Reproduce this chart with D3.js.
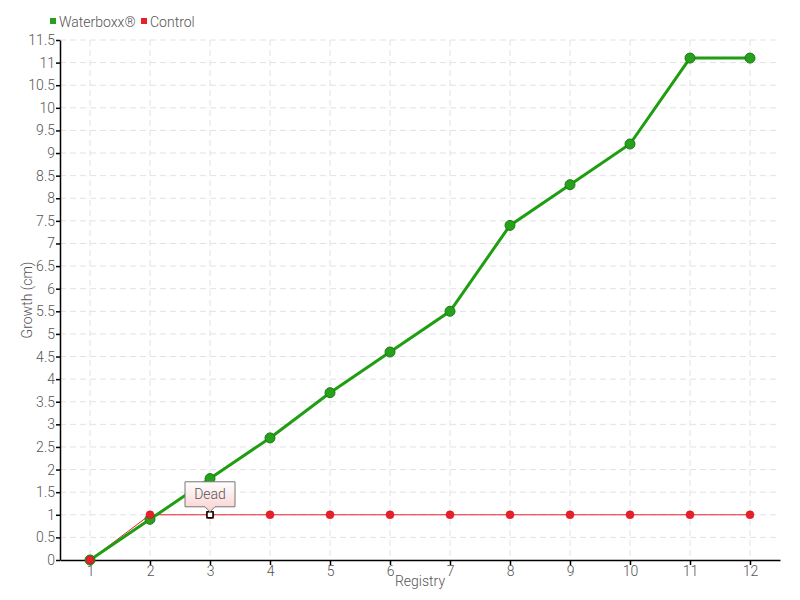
<!DOCTYPE html>
<meta charset="utf-8">
<script src="https://d3js.org/d3.v7.min.js"></script>
<style>
  body { margin: 0; background: #fff; }
  text { font-family: Roboto, "DejaVu Sans Condensed", sans-serif; font-weight: 300; fill: #555; }
</style>
<div id="chart"></div>
<script>
// data
var registry = [1, 2, 3, 4, 5, 6, 7, 8, 9, 10, 11, 12];
var waterboxx = [0, 0.9, 1.8, 2.7, 3.7, 4.6, 5.5, 7.4, 8.3, 9.2, 11.1, 11.1];
var control = [0, 1, 1, 1, 1, 1, 1, 1, 1, 1, 1, 1];
var yTicks = d3.range(0, 11.51, 0.5);
var deadIndex = 2;

var width = 800, height = 600;
var margin = {top: 40, right: 20, bottom: 40, left: 60};

var svg = d3.select("#chart").append("svg")
    .attr("width", width)
    .attr("height", height);

var x = d3.scaleLinear().domain([0.5, 12.5]).range([margin.left, width - margin.right]);
var y = d3.scaleLinear().domain([0, 11.5]).range([height - margin.bottom, margin.top]);

// grid
svg.append("g").selectAll("line.h")
  .data(yTicks.slice(1))
  .enter().append("line")
    .attr("x1", margin.left).attr("x2", width - margin.right)
    .attr("y1", d => y(d)).attr("y2", d => y(d))
    .attr("stroke", "#e2e2e2").attr("stroke-dasharray", "6,4");
svg.append("g").selectAll("line.v")
  .data(registry)
  .enter().append("line")
    .attr("x1", d => x(d)).attr("x2", d => x(d))
    .attr("y1", margin.top).attr("y2", height - margin.bottom)
    .attr("stroke", "#e2e2e2").attr("stroke-dasharray", "6,4");

// axes
var yAxis = svg.append("g")
    .attr("transform", "translate(" + margin.left + ",0)")
    .call(d3.axisLeft(y).tickValues(yTicks).tickSize(4).tickSizeOuter(0)
      .tickFormat(d3.format("~g")));
var xAxis = svg.append("g")
    .attr("transform", "translate(0," + (height - margin.bottom) + ")")
    .call(d3.axisBottom(x).tickValues(registry).tickSize(5).tickSizeOuter(0)
      .tickFormat(d3.format("d")));
[xAxis, yAxis].forEach(function(a) {
  a.select(".domain").attr("stroke", "#000").attr("stroke-width", 1.5);
  a.selectAll(".tick line").attr("stroke", "#000").attr("stroke-width", 1.5);
  a.selectAll("text").style("font-size", "14px").attr("fill", "#555");
});
yAxis.selectAll("text").attr("x", -5);
xAxis.selectAll("text").attr("y", 6);

// axis titles
svg.append("text")
    .attr("transform", "translate(32," + ((margin.top + height - margin.bottom) / 2) + ") rotate(-90)")
    .attr("text-anchor", "middle")
    .style("font-size", "14px")
    .text("Growth (cm)");
svg.append("text")
    .attr("x", (margin.left + width - margin.right) / 2)
    .attr("y", 586)
    .attr("text-anchor", "middle")
    .style("font-size", "14px")
    .text("Registry");

// lines
var line = d3.line().x((d, i) => x(registry[i])).y(d => y(d));

svg.append("path").datum(control)
    .attr("d", line).attr("fill", "none")
    .attr("stroke", "#e8202a").attr("stroke-width", 1);
svg.append("path").datum(waterboxx)
    .attr("d", line).attr("fill", "none")
    .attr("stroke", "#1f9e12").attr("stroke-width", 3);

svg.append("g").selectAll("circle")
  .data(waterboxx)
  .enter().append("circle")
    .attr("cx", (d, i) => x(registry[i])).attr("cy", d => y(d))
    .attr("r", 5)
    .attr("fill", "#27a11b").attr("stroke", "#1b7a12").attr("stroke-width", 1);

svg.append("g").selectAll("circle")
  .data(control)
  .enter().append("circle")
    .attr("cx", (d, i) => x(registry[i])).attr("cy", d => y(d))
    .attr("r", 4)
    .attr("fill", "#e8202a").attr("stroke", "#c8101a").attr("stroke-width", 0.5);

// highlighted dead point
var dx = x(registry[deadIndex]), dy = y(control[deadIndex]);
svg.append("rect")
    .attr("x", dx - 3).attr("y", dy - 3).attr("width", 6).attr("height", 6)
    .attr("fill", "#fff").attr("stroke", "#000").attr("stroke-width", 1.5);

// tooltip
var defs = svg.append("defs");
var grad = defs.append("linearGradient").attr("id", "tip").attr("x1", 0).attr("y1", 0).attr("x2", 0).attr("y2", 1);
grad.append("stop").attr("offset", "0%").attr("stop-color", "#ffffff");
grad.append("stop").attr("offset", "100%").attr("stop-color", "#fbd0d0");
var tw = 50, th = 25, ty = dy - 33;
svg.append("path")
    .attr("d", "M" + (dx - tw / 2) + "," + ty + "h" + tw + "v" + th + "h-" + (tw / 2 - 5) +
      "l-5,5l-5,-5h-" + (tw / 2 - 5) + "z")
    .attr("fill", "url(#tip)").attr("stroke", "#777").attr("stroke-width", 1);
svg.append("text")
    .attr("x", dx).attr("y", ty + 17)
    .attr("text-anchor", "middle")
    .style("font-size", "14px")
    .text("Dead");

// legend
var legend = [{name: "Waterboxx®", color: "#27a11b", x: 50}, {name: "Control", color: "#e8202a", x: 141}];
var lg = svg.append("g").selectAll("g").data(legend).enter().append("g")
    .attr("transform", d => "translate(" + d.x + ",22)");
lg.append("rect").attr("x", 0).attr("y", -4).attr("width", 6).attr("height", 6).attr("fill", d => d.color);
lg.append("text").attr("x", 9).attr("y", 5).style("font-size", "14px").text(d => d.name);
</script>
